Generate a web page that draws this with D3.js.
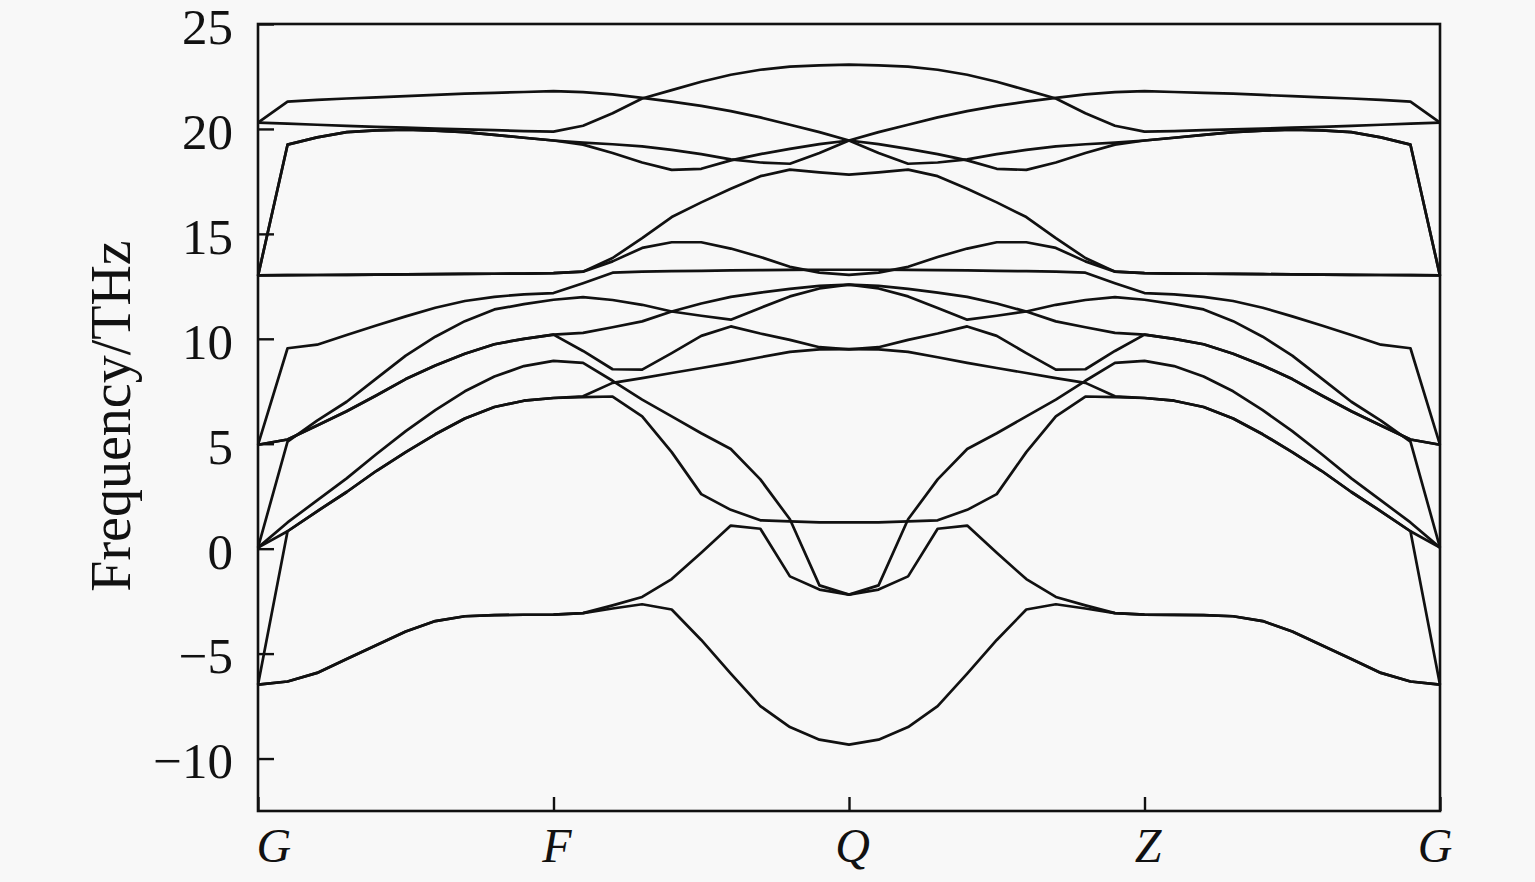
<!DOCTYPE html>
<html><head><meta charset="utf-8">
<script src="https://cdn.jsdelivr.net/npm/d3@7"></script>
<style>html,body{margin:0;padding:0;background:#f8f8f8;} svg{display:block;}</style>
</head><body><svg id="chart" width="1535" height="882"></svg>
<script>
// High-symmetry path labels and their k-point indices
const symLabels = ["G", "F", "Q", "Z", "G"];
const symIndex = [0, 10, 20, 30, 40];
const yTicks = [-10, -5, 0, 5, 10, 15, 20, 25];

// Phonon bands (THz) at the 41 k-points along G-F-Q-Z-G
const band01 = [20.3, 21.3, 21.38, 21.45, 21.5, 21.56, 21.62, 21.68, 21.72, 21.76, 21.8, 21.75, 21.65, 21.48, 21.3, 21.1, 20.85, 20.55, 20.2, 19.85, 19.45, 19.85, 20.2, 20.55, 20.85, 21.1, 21.3, 21.48, 21.65, 21.75, 21.8, 21.76, 21.72, 21.68, 21.62, 21.56, 21.5, 21.45, 21.38, 21.3, 20.3];
const band02 = [20.3, 20.25, 20.2, 20.15, 20.1, 20.06, 20.02, 19.98, 19.94, 19.9, 19.87, 20.15, 20.75, 21.45, 21.85, 22.25, 22.58, 22.82, 22.97, 23.03, 23.06, 23.03, 22.97, 22.82, 22.58, 22.25, 21.85, 21.45, 20.75, 20.15, 19.87, 19.9, 19.94, 19.98, 20.02, 20.06, 20.1, 20.15, 20.2, 20.25, 20.3];
const band03 = [13.0, 19.25, 19.6, 19.85, 19.93, 19.96, 19.92, 19.85, 19.72, 19.58, 19.45, 19.35, 19.27, 19.17, 19.0, 18.8, 18.55, 18.4, 18.34, 18.85, 19.45, 18.85, 18.34, 18.4, 18.55, 18.8, 19.0, 19.17, 19.27, 19.35, 19.45, 19.58, 19.72, 19.85, 19.92, 19.96, 19.93, 19.85, 19.6, 19.25, 13.0];
const band04 = [13.0, 19.25, 19.6, 19.85, 19.93, 19.96, 19.92, 19.85, 19.72, 19.58, 19.45, 19.25, 18.85, 18.4, 18.05, 18.1, 18.5, 18.8, 19.05, 19.28, 19.45, 19.28, 19.05, 18.8, 18.5, 18.1, 18.05, 18.4, 18.85, 19.25, 19.45, 19.58, 19.72, 19.85, 19.92, 19.96, 19.93, 19.85, 19.6, 19.25, 13.0];
const band05 = [13.02, 13.03, 13.04, 13.05, 13.06, 13.07, 13.08, 13.09, 13.1, 13.11, 13.13, 13.2, 13.85, 14.8, 15.8, 16.5, 17.15, 17.75, 18.06, 17.93, 17.82, 17.93, 18.06, 17.75, 17.15, 16.5, 15.8, 14.8, 13.85, 13.2, 13.13, 13.11, 13.1, 13.09, 13.08, 13.07, 13.06, 13.05, 13.04, 13.03, 13.02];
const band06 = [13.02, 13.03, 13.04, 13.05, 13.06, 13.07, 13.08, 13.09, 13.1, 13.11, 13.13, 13.2, 13.69, 14.33, 14.6, 14.6, 14.3, 13.9, 13.43, 13.15, 13.05, 13.15, 13.43, 13.9, 14.3, 14.6, 14.6, 14.33, 13.69, 13.2, 13.13, 13.11, 13.1, 13.09, 13.08, 13.07, 13.06, 13.05, 13.04, 13.03, 13.02];
const band07 = [4.95, 9.55, 9.72, 10.18, 10.63, 11.07, 11.48, 11.8, 12.0, 12.12, 12.18, 12.65, 13.15, 13.2, 13.22, 13.24, 13.26, 13.27, 13.28, 13.29, 13.29, 13.29, 13.28, 13.27, 13.26, 13.24, 13.22, 13.2, 13.15, 12.65, 12.18, 12.12, 12.0, 11.8, 11.48, 11.07, 10.63, 10.18, 9.72, 9.55, 4.95];
const band08 = [0.05, 5.1, 6.1, 7.0, 8.1, 9.2, 10.1, 10.84, 11.4, 11.65, 11.86, 11.99, 11.85, 11.62, 11.3, 11.1, 10.91, 11.47, 12.02, 12.4, 12.58, 12.4, 12.02, 11.47, 10.91, 11.1, 11.3, 11.62, 11.85, 11.99, 11.86, 11.65, 11.4, 10.84, 10.1, 9.2, 8.1, 7.0, 6.1, 5.1, 0.05];
const band09 = [4.95, 5.2, 5.87, 6.55, 7.3, 8.08, 8.73, 9.29, 9.74, 10.0, 10.2, 10.28, 10.55, 10.83, 11.3, 11.68, 12.0, 12.2, 12.38, 12.52, 12.58, 12.52, 12.38, 12.2, 12.0, 11.68, 11.3, 10.83, 10.55, 10.28, 10.2, 10.0, 9.74, 9.29, 8.73, 8.08, 7.3, 6.55, 5.87, 5.2, 4.95];
const band10 = [4.95, 5.2, 5.87, 6.55, 7.3, 8.08, 8.73, 9.29, 9.74, 10.0, 10.2, 9.42, 8.55, 8.53, 9.32, 10.14, 10.59, 10.25, 9.95, 9.6, 9.5, 9.6, 9.95, 10.25, 10.59, 10.14, 9.32, 8.53, 8.55, 9.42, 10.2, 10.0, 9.74, 9.29, 8.73, 8.08, 7.3, 6.55, 5.87, 5.2, 4.95];
const band11 = [-6.48, 0.83, 1.78, 2.7, 3.7, 4.6, 5.45, 6.2, 6.75, 7.05, 7.18, 7.26, 7.9, 8.13, 8.37, 8.61, 8.85, 9.12, 9.38, 9.5, 9.51, 9.5, 9.38, 9.12, 8.85, 8.61, 8.37, 8.13, 7.9, 7.26, 7.18, 7.05, 6.75, 6.2, 5.45, 4.6, 3.7, 2.7, 1.78, 0.83, -6.48];
const band12 = [0.05, 1.25, 2.3, 3.35, 4.5, 5.6, 6.6, 7.5, 8.2, 8.7, 8.95, 8.85, 8.0, 7.1, 6.3, 5.5, 4.75, 3.3, 1.4, -1.75, -2.19, -1.75, 1.4, 3.3, 4.75, 5.5, 6.3, 7.1, 8.0, 8.85, 8.95, 8.7, 8.2, 7.5, 6.6, 5.6, 4.5, 3.35, 2.3, 1.25, 0.05];
const band13 = [0.05, 0.83, 1.78, 2.7, 3.7, 4.6, 5.45, 6.2, 6.75, 7.05, 7.18, 7.22, 7.25, 6.3, 4.6, 2.6, 1.85, 1.35, 1.3, 1.25, 1.25, 1.25, 1.3, 1.35, 1.85, 2.6, 4.6, 6.3, 7.25, 7.22, 7.18, 7.05, 6.75, 6.2, 5.45, 4.6, 3.7, 2.7, 1.78, 0.83, 0.05];
const band14 = [-6.48, -6.33, -5.92, -5.26, -4.6, -3.95, -3.45, -3.22, -3.17, -3.15, -3.14, -3.07, -2.7, -2.3, -1.45, -0.2, 1.1, 0.95, -1.32, -1.95, -2.19, -1.95, -1.32, 0.95, 1.1, -0.2, -1.45, -2.3, -2.7, -3.07, -3.14, -3.15, -3.17, -3.22, -3.45, -3.95, -4.6, -5.26, -5.92, -6.33, -6.48];
const band15 = [-6.48, -6.33, -5.92, -5.26, -4.6, -3.95, -3.45, -3.22, -3.17, -3.15, -3.14, -3.07, -2.85, -2.65, -2.9, -4.35, -5.95, -7.5, -8.5, -9.1, -9.34, -9.1, -8.5, -7.5, -5.95, -4.35, -2.9, -2.65, -2.85, -3.07, -3.14, -3.15, -3.17, -3.22, -3.45, -3.95, -4.6, -5.26, -5.92, -6.33, -6.48];

const bands = [band01, band02, band03, band04, band05, band06, band07, band08,
               band09, band10, band11, band12, band13, band14, band15];

const svg = d3.select("#chart");
const plotLeft = 258, plotRight = 1440, plotTop = 24, plotBottom = 811;
const nK = band01.length;

const x = d3.scaleLinear().domain([0, nK - 1]).range([plotLeft, plotRight]);
const y = d3.scaleLinear().domain([-12.5, 25]).range([plotBottom, plotTop]);

const serif = "'Liberation Serif', 'Times New Roman', serif";

// bands
const line = d3.line().x((d, i) => x(i)).y(d => y(d)).curve(d3.curveLinear);
svg.append("g").selectAll("path").data(bands).join("path")
  .attr("d", line)
  .attr("fill", "none")
  .attr("stroke", "#111")
  .attr("stroke-width", 2.7)
  .attr("stroke-linejoin", "round");

// frame
svg.append("rect")
  .attr("x", plotLeft).attr("y", plotTop)
  .attr("width", plotRight - plotLeft).attr("height", plotBottom - plotTop)
  .attr("fill", "none").attr("stroke", "#111").attr("stroke-width", 2.6);

// y axis (ticks inward)
const yAxis = svg.append("g").attr("transform", `translate(${plotLeft},0)`)
  .call(d3.axisLeft(y).tickValues(yTicks).tickSize(-16).tickPadding(25));
yAxis.select(".domain").remove();
yAxis.selectAll(".tick line").attr("stroke", "#111").attr("stroke-width", 2.4);
yAxis.selectAll(".tick text")
  .attr("font-family", serif).attr("font-size", 51).attr("fill", "#111")
  .attr("dy", "0.38em");

// x axis (ticks inward)
const xAxis = svg.append("g").attr("transform", `translate(0,${plotBottom})`)
  .call(d3.axisBottom(x).tickValues(symIndex).tickSize(-14)
        .tickFormat((d, i) => symLabels[i]));
xAxis.select(".domain").remove();
xAxis.selectAll(".tick line").attr("stroke", "#111").attr("stroke-width", 2.4);
xAxis.selectAll(".tick text")
  .attr("font-family", serif).attr("font-size", 48).attr("font-style", "italic")
  .attr("fill", "#111")
  .attr("y", 51).attr("dy", 0)
  .attr("text-anchor", (d, i) => i === 0 ? "start" : (i === symIndex.length - 1 ? "end" : "middle"))
  .attr("dx", (d, i) => i === 0 ? -2 : (i === symIndex.length - 1 ? 12 : 3));

// y axis title
svg.append("text")
  .attr("transform", `translate(130,416) rotate(-90)`)
  .attr("text-anchor", "middle")
  .attr("font-family", serif).attr("font-size", 56).attr("fill", "#111")
  .text("Frequency/THz");
</script>
</body></html>
